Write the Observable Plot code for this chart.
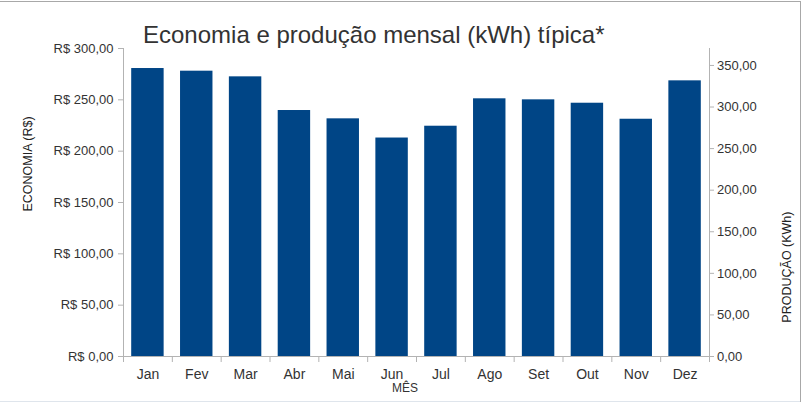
<!DOCTYPE html>
<html>
<head>
<meta charset="utf-8">
<script src="https://cdn.jsdelivr.net/npm/d3@7"></script>
<script src="https://cdn.jsdelivr.net/npm/@observablehq/plot@0.6"></script>
<style>
  body { margin: 0; background: #fff; font-family: "Liberation Sans", Arial, sans-serif; }
  #wrap { position: relative; width: 804px; height: 402px; overflow: hidden; background: #fff; }
  #title { position: relative; height: 30px; z-index: 2; }
  #title span { position: absolute; left: 143px; top: 21px; font-size: 24px; color: #333; white-space: nowrap; line-height: normal; }
  #chart svg { overflow: visible; display: block; }
  .b { position: absolute; z-index: 3; }
</style>
</head>
<body>
<div id="wrap">
  <div id="title"><span>Economia e produção mensal (kWh) típica*</span></div>
  <div id="chart"></div>
  <div class="b" style="left:0;top:1px;width:801px;height:1px;background:#a8a8a8"></div>
  <div class="b" style="left:800px;top:1px;width:1px;height:401px;background:#a8a8a8"></div>
  <div class="b" style="left:0;top:401px;width:800px;height:1px;background:#dfe5ec"></div>
</div>
<script>
// Months (x categories)
const months = ["Jan", "Fev", "Mar", "Abr", "Mai", "Jun", "Jul", "Ago", "Set", "Out", "Nov", "Dez"];
// Monthly savings (R$)
const economia = [280.5, 277.9, 272.4, 239.6, 231.5, 212.8, 224.3, 251.0, 250.0, 246.7, 231.1, 268.5];
// Left axis ticks (R$)
const ticksEconomia = [0, 50, 100, 150, 200, 250, 300];
// Right axis ticks (kWh)
const ticksProducao = [0, 50, 100, 150, 200, 250, 300, 350];
// Tariff linking the two axes (R$ per kWh)
const tarifa = 0.81;

const data = months.map((m, i) => ({mes: m, economia: economia[i]}));
const fmt2 = d3.format(".2f");
const br = v => fmt2(Math.abs(v) < 1e-9 ? 0 : v).replace(".", ",");

const W = 804, H = 372, mL = 123, mR = 95, mT = 18, mB = 46;
const step = (W - mL - mR) / months.length;
const axisColor = "#b3b3b3";
const textColor = "#333";

const chart = Plot.plot({
  width: W,
  height: H,
  marginLeft: mL,
  marginRight: mR,
  marginTop: mT,
  marginBottom: mB,
  style: {fontFamily: "'Liberation Sans', Arial, sans-serif", background: "white", color: textColor, overflow: "visible"},
  x: {domain: months, padding: 0, round: false, axis: null, label: null},
  y: {domain: [0, 300], axis: null, label: null},
  marks: [
    Plot.barY(data, {x: "mes", y: "economia", fill: "#004586", insetLeft: 8.2, insetRight: 8.2}),
    // axis lines
    Plot.ruleY([0], {stroke: axisColor}),
    Plot.ruleX([months[0]], {x: d => d, dx: -step / 2, y1: 0, y2: 300, stroke: axisColor}),
    Plot.ruleX([months[months.length - 1]], {x: d => d, dx: step / 2, y1: 0, y2: 300, stroke: axisColor}),
    // x boundary ticks
    Plot.ruleX(months, {x: d => d, dx: -step / 2, y1: 0, y2: 0, insetBottom: -6, stroke: axisColor}),
    Plot.ruleX([months[months.length - 1]], {x: d => d, dx: step / 2, y1: 0, y2: 0, insetBottom: -6, stroke: axisColor}),
    // x labels
    Plot.axisX({tickSize: 0, tickPadding: 13, fontSize: 14, fill: textColor, label: null}),
    // left axis (R$)
    Plot.axisY(ticksEconomia, {anchor: "left", tickSize: 5, tickPadding: 5, fontSize: 13, stroke: axisColor, fill: textColor,
      tickFormat: d => "R$ " + br(d), label: null}),
    // right axis (kWh)
    Plot.axisY(ticksProducao.map(k => k * tarifa), {anchor: "right", tickSize: 4, tickPadding: 3.5, fontSize: 13, stroke: axisColor, fill: textColor,
      tickFormat: d => br(d / tarifa), label: null}),
    // axis titles
    Plot.text(["ECONOMIA (R$)"], {text: d => d, frameAnchor: "left", dx: -96, dy: 9, rotate: -90, fontSize: 12.5, fill: "#222"}),
    Plot.text(["PRODUÇÃO (KWh)"], {text: d => d, frameAnchor: "right", dx: 77, dy: 9, rotate: -90, fontSize: 12.5, fill: "#222"}),
    Plot.text(["MÊS"], {text: d => d, frameAnchor: "bottom", dx: -11.5, dy: 35.5, fontSize: 12, fill: textColor})
  ]
});
document.getElementById("chart").appendChild(chart);
</script>
</body>
</html>
